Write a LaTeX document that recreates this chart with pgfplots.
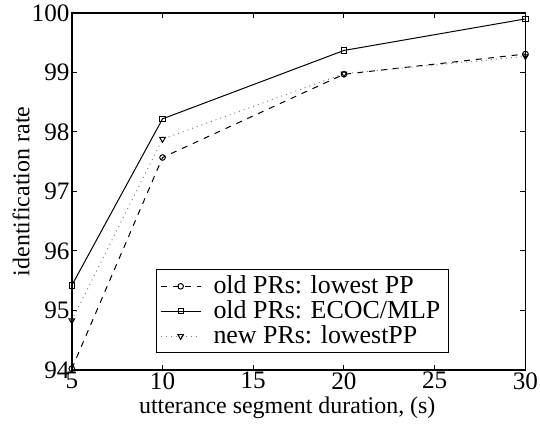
\documentclass[border=0pt]{standalone}
\usepackage{pgfplots}
\pgfplotsset{compat=1.18}
\usepackage{fontspec}
\setmainfont{Liberation Serif}
\begin{document}
\begin{tikzpicture}[font=\fontsize{12}{14}\selectfont]
  \begin{axis}[
  width=227.5pt, height=179pt,
  scale only axis,
  xmin=5, xmax=30, ymin=94, ymax=100,
  xtick={5,10,15,20,25,30},
  ytick={94,95,96,97,98,99,100},
  /pgf/number format/assume math mode=true,
  axis line style={line width=0.8pt},
  major tick length=2.5pt,
  tick style={line width=0.5pt, black},
  tick label style={font=\fontsize{12.6}{14}\selectfont},
  yticklabel style={inner sep=1pt},
  xticklabel style={inner sep=1pt},
  xlabel={utterance segment duration, (s)},
  ylabel={identification rate},
  every axis x label/.style={at={(axis description cs:0.475,-0.123)}, anchor=base},
  every axis y label/.style={at={(axis description cs:-0.112,0.5)}, anchor=center, rotate=90},
  legend style={at={(0.185,0.282)}, anchor=north west, draw=black, line width=0.6pt,
    inner xsep=2pt, inner ysep=1pt, row sep=-2pt, font=\fontsize{13}{15}\selectfont},
  legend cell align=left,
  legend image code/.code={
    \draw[mark repeat=2,mark phase=2] plot coordinates {(0cm,0cm)(0.35cm,0cm)(0.7cm,0cm)};
    \path (0.85cm,0cm);},
  ]
  \addplot[black, dashed, line width=0.5pt, mark=o, mark size=1.4pt, mark options={solid}]
    coordinates {(5,94.02) (10,97.57) (20,98.97) (30,99.31)};
  \addlegendentry{old PRs: lowest PP}
  \addplot[black, solid, line width=0.5pt, mark=square, mark size=1.3pt]
    coordinates {(5,95.42) (10,98.22) (20,99.37) (30,99.90)};
  \addlegendentry{old PRs: ECOC/MLP}
  \addplot[gray, dotted, line width=0.5pt, mark=triangle, mark size=1.6pt, mark options={solid, black, rotate=180}]
    coordinates {(5,94.83) (10,97.88) (20,98.98) (30,99.27)};
  \addlegendentry{new PRs: lowestPP}
  \end{axis}
  \path (current axis.south west) ++(-36pt,-26.5pt) (current axis.north east) ++(6.5pt,6.5pt);
\end{tikzpicture}
\end{document}
